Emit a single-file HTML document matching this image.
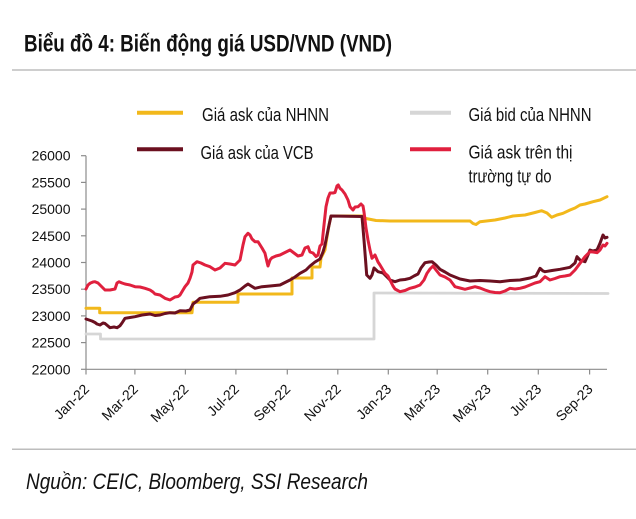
<!DOCTYPE html>
<html><head><meta charset="utf-8"><style>
html,body{margin:0;padding:0;background:#fff;}
svg{display:block;}
text{font-family:"Liberation Sans","Noto Sans CJK SC",sans-serif;fill:#111;}
</style></head><body>
<svg width="636" height="519" viewBox="0 0 636 519" xmlns="http://www.w3.org/2000/svg">
<rect width="636" height="519" fill="#fff"/>
<text x="24" y="51.7" font-size="24" font-weight="bold" textLength="368" lengthAdjust="spacingAndGlyphs">Biểu đồ 4: Biến động giá USD/VND (VND)</text>
<line x1="12" y1="70" x2="636" y2="70" stroke="#bdbdbd" stroke-width="1.5"/>

<!-- legend -->
<line x1="137" y1="112.7" x2="183" y2="112.7" stroke="#f2b81b" stroke-width="4"/>
<text x="202" y="121" font-size="18" textLength="127" lengthAdjust="spacingAndGlyphs">Giá ask của NHNN</text>
<line x1="410" y1="112.7" x2="451" y2="112.7" stroke="#d6d6d6" stroke-width="4"/>
<text x="468.5" y="121" font-size="18" textLength="123" lengthAdjust="spacingAndGlyphs">Giá bid của NHNN</text>
<line x1="137" y1="149.3" x2="183" y2="149.3" stroke="#6b1020" stroke-width="4"/>
<text x="200.5" y="159" font-size="18" textLength="113" lengthAdjust="spacingAndGlyphs">Giá ask của VCB</text>
<line x1="410" y1="149.3" x2="451" y2="149.3" stroke="#e0203e" stroke-width="4"/>
<text x="468.5" y="158.5" font-size="18" textLength="104" lengthAdjust="spacingAndGlyphs">Giá ask trên thị</text>
<text x="468.5" y="182.5" font-size="18" textLength="83" lengthAdjust="spacingAndGlyphs">trường tự do</text>

<!-- axes -->
<g stroke="#8c8c8c" stroke-width="1.2">
<line x1="86" y1="155.7" x2="86" y2="369.3"/>
<line x1="86" y1="369.3" x2="607" y2="369.3"/>
<line x1="81" y1="155.7" x2="86" y2="155.7"/>
<line x1="81" y1="182.4" x2="86" y2="182.4"/>
<line x1="81" y1="209.1" x2="86" y2="209.1"/>
<line x1="81" y1="235.8" x2="86" y2="235.8"/>
<line x1="81" y1="262.5" x2="86" y2="262.5"/>
<line x1="81" y1="289.2" x2="86" y2="289.2"/>
<line x1="81" y1="315.9" x2="86" y2="315.9"/>
<line x1="81" y1="342.6" x2="86" y2="342.6"/>
<line x1="81" y1="369.3" x2="86" y2="369.3"/>
<line x1="86" y1="369.3" x2="86" y2="374.5"/>
<line x1="134.9" y1="369.3" x2="134.9" y2="374.5"/>
<line x1="185.4" y1="369.3" x2="185.4" y2="374.5"/>
<line x1="235.9" y1="369.3" x2="235.9" y2="374.5"/>
<line x1="287.3" y1="369.3" x2="287.3" y2="374.5"/>
<line x1="337.8" y1="369.3" x2="337.8" y2="374.5"/>
<line x1="388.3" y1="369.3" x2="388.3" y2="374.5"/>
<line x1="437.2" y1="369.3" x2="437.2" y2="374.5"/>
<line x1="487.7" y1="369.3" x2="487.7" y2="374.5"/>
<line x1="538.3" y1="369.3" x2="538.3" y2="374.5"/>
<line x1="589.6" y1="369.3" x2="589.6" y2="374.5"/>
</g>
<g font-size="14" text-anchor="end">
<text x="70.5" y="160.7">26000</text>
<text x="70.5" y="187.4">25500</text>
<text x="70.5" y="214.1">25000</text>
<text x="70.5" y="240.8">24500</text>
<text x="70.5" y="267.5">24000</text>
<text x="70.5" y="294.2">23500</text>
<text x="70.5" y="320.9">23000</text>
<text x="70.5" y="347.6">22500</text>
<text x="70.5" y="374.3">22000</text>
</g>
<g font-size="14" text-anchor="end">
<text transform="translate(90,390) rotate(-45)">Jan-22</text>
<text transform="translate(138.9,390) rotate(-45)">Mar-22</text>
<text transform="translate(189.4,390) rotate(-45)">May-22</text>
<text transform="translate(239.9,390) rotate(-45)">Jul-22</text>
<text transform="translate(291.3,390) rotate(-45)">Sep-22</text>
<text transform="translate(341.8,390) rotate(-45)">Nov-22</text>
<text transform="translate(392.3,390) rotate(-45)">Jan-23</text>
<text transform="translate(441.2,390) rotate(-45)">Mar-23</text>
<text transform="translate(491.7,390) rotate(-45)">May-23</text>
<text transform="translate(542.3,390) rotate(-45)">Jul-23</text>
<text transform="translate(593.6,390) rotate(-45)">Sep-23</text>
</g>

<!-- series -->
<g fill="none" stroke-linejoin="round" stroke-linecap="round">
<polyline stroke="#d6d6d6" stroke-width="2.8" points="86,334 100.5,334 100.5,339 374,339 374,293 608,293.5"/>
<polyline stroke="#f2b81b" stroke-width="3" points="86,308.3 99.7,308.3 99.7,312.7 192,312.7 193,302.3 238,302.3 238,294 292,294 292,278 312,278 312,267 320,267 321,258 325,250 326,243 329,225 331,216 363,216 366,218.5 376,220.5 390,221 470,221 473,223.5 476,224.5 480,221.7 495,220 505,218 513,216 525,215 535,212.5 541.7,210.7 547,213 551.7,217.3 557,215 563,213.3 570,210 575,208 580,205 585,204 593,201.7 600,200 607,196.7"/>
<polyline stroke="#6b1020" stroke-width="3" points="86,319 89,320 92,321 95,322.5 97,324 100,325 103,323 105,323.5 108,326 110,327.7 114,327 117,327.7 120,325.7 122,323 125,318.3 130,317.5 135,316.7 142,315 150,314 155,315.5 160,315 165,313.5 170,312.7 175,313 180,310.7 186,311 190,310 193,304 197,301 200,298.3 205,297.5 210,296.7 215,296.5 220,296.3 228,295 235,292.7 240,290 245,286 248,284 252,286.5 255,288.3 262,286.7 270,286 280,285 285,282.5 290,280 295,277 300,273.3 303,271.7 306,270 310,266 315,262 320,259 323,252 325,245 328,230 331,216 362,216.5 364,240 366.7,275 370,278.3 372,275 374,268 378,271.7 383,273 387,277 390,280 395,281.7 400,280 405,279.5 410,278.3 414,276 418,274 421,268 425,262.7 429,262 432,261.7 436,265 440,269.3 445,272 450,275 455,277 460,279 470,281 480,280.5 490,281 500,281.7 510,280.5 520,280 530,278 536,276 540,268.3 543,271 545,271.7 552,270.5 560,269.3 570,267.3 575,263 577,256.7 580,260 585,261.7 588,255 590,250 593,251 597,250 600,243.3 603,235 605,238 607,237.3"/>
<polyline stroke="#e0203e" stroke-width="3" points="86,289 88,285 90,283.3 93,282 95,281.7 98,283 100,285 103,288 105,290 110,290 115,289 117,283 119,281.7 122,283 125,284 130,285 135,286.7 140,287 145,288.3 150,290 153,292 155,294 160,295 165,298.3 170,300 175,297 178,296.5 180,295 183,290 185,286.7 188,283 190,278.3 192,272 193,265 197,261.7 201,263 205,265 210,266.7 215,270 220,268 225,263.3 230,264 235,265 240,260 243,245 245,236.7 248,233.3 250,235 252,239 255,241.7 258,241.7 262,248 265,253.3 267,262 268,266 270,260 272,257.7 276,256 280,255 285,252.5 290,250 294,253 298,256 302,255 305,248 308,246.7 310,252 313,253 316,256.5 318,255 320,246 322,244 324,225 326,206.7 328,198 330,193 333,193 335,192.5 337,186 338.3,185 340,188.3 342,190 345,194 348,200 350,206.7 353,210 355,207 358,206.7 361,204 363,206 364,212 366,228 368,240 370,250 372,258.3 375,255 378,262 380,265 383,270 385,273.3 388,276 390,280 393,286 395,289 400,291.7 405,290.5 410,288.3 415,287 420,285 424,280 427,273.3 430,269 433,266 436,270 440,275 445,277 450,280 453,284 455,286.7 460,288 465,289.3 470,288 475,286.7 480,288 485,290 490,291.7 495,292.5 500,292.7 505,291 510,288.3 515,289 520,288.3 525,287 530,285 535,283 540,281.7 545,276.7 550,280 555,278.5 560,276.7 565,276 570,275 575,270 580,263.3 585,256.7 590,251.7 593,252 597,252.7 600,250 603,245 605,246 607,243.3"/>
</g>

<line x1="12" y1="449.3" x2="636" y2="449.3" stroke="#bdbdbd" stroke-width="1.5"/>
<text x="26" y="489" font-size="22" font-style="italic" textLength="342" lengthAdjust="spacingAndGlyphs">Nguồn: CEIC, Bloomberg, SSI Research</text>
</svg>
</body></html>
